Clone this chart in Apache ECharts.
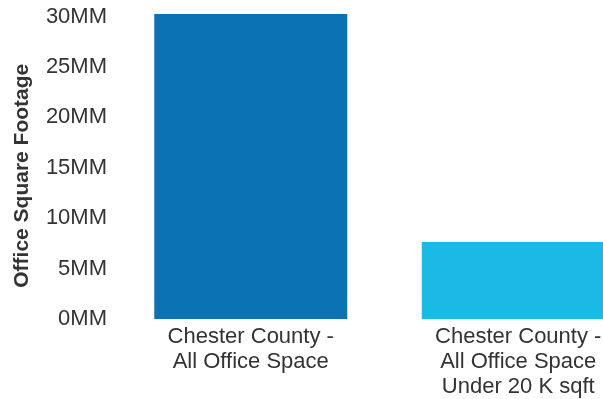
<!DOCTYPE html>
<html>
<head>
<meta charset="utf-8">
<script src="https://cdn.jsdelivr.net/npm/echarts@6/dist/echarts.min.js"></script>
<style>
  html, body { margin: 0; padding: 0; background: #fff; overflow: hidden; }
  /* the source chart is cut off on the right, so the canvas runs past the window */
  #chart { width: 652px; height: 399px; }
</style>
</head>
<body>
<div id="chart"></div>
<script>
/* office square footage bar chart */
var categories = [
  "Chester County -\nAll Office Space",
  "Chester County -\nAll Office Space\nUnder 20 K sqft"
];
var footage = [30.24, 7.64]; // millions of sq ft
var barColors = ["#0b72b3", "#1ab9e6"];

var dom = document.getElementById("chart");
var myChart = echarts.init(dom, null, { renderer: "canvas" });

var option = {
  animation: false,
  grid: { left: 117, right: 0, top: 16.5, bottom: 79 },
  xAxis: {
    type: "category",
    data: categories,
    axisLine: { show: false },
    axisTick: { show: false },
    axisLabel: {
      color: "#333",
      fontFamily: "Liberation Sans",
      fontSize: 22,
      lineHeight: 25,
      margin: 5,
      interval: 0
    }
  },
  yAxis: {
    type: "value",
    min: 0,
    max: 30,
    interval: 5,
    name: "Office Square Footage",
    nameLocation: "middle",
    nameGap: 84,
    nameTextStyle: {
      color: "#333",
      fontFamily: "Liberation Sans",
      fontWeight: "bold",
      fontSize: 21,
      padding: [0, 16, 0, 0]
    },
    splitLine: { show: false },
    axisLine: { show: false },
    axisTick: { show: false },
    axisLabel: {
      color: "#333",
      fontFamily: "Liberation Sans",
      fontSize: 22,
      margin: 10,
      formatter: function (v) { return v + "MM"; }
    }
  },
  series: [
    {
      type: "bar",
      clip: false,
      barWidth: 193,
      data: footage.map(function (v, i) {
        return { value: v, itemStyle: { color: barColors[i] } };
      })
    }
  ]
};

myChart.setOption(option);
window.addEventListener("resize", myChart.resize);
</script>
</body>
</html>
